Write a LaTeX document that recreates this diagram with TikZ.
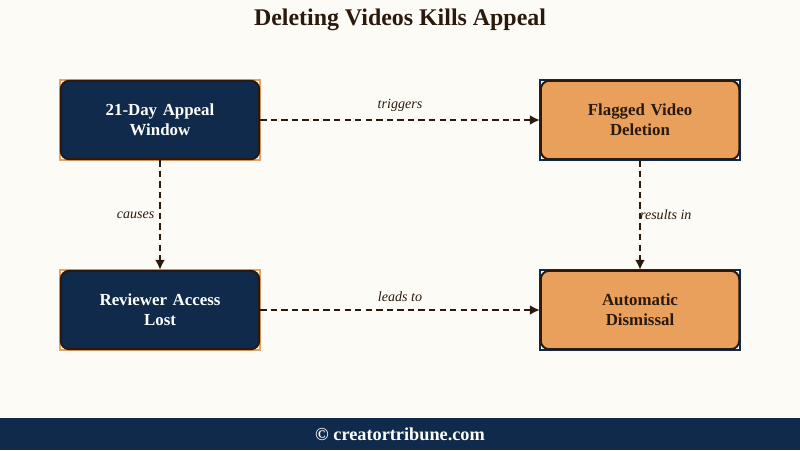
\documentclass[tikz,border=0pt]{standalone}
\usepackage{fontspec}
\setmainfont{Liberation Serif}
\usetikzlibrary{backgrounds, arrows.meta}
\definecolor{cream}{HTML}{FDFBF6}
\definecolor{navy}{HTML}{0F2A4A}
\definecolor{apricot}{HTML}{E8A05C}
\definecolor{umber}{HTML}{2B1A0C}
\definecolor{tan}{HTML}{E2A266}
\tikzset{
    darkbox/.style={rectangle, rounded corners=6pt, draw=umber, line width=1.4pt,
        fill=navy, text=white, font=\bfseries\fontsize{12}{14}\selectfont,
        minimum width=4.96cm, minimum height=1.96cm, align=center, text width=4.2cm},
    lightbox/.style={darkbox, fill=apricot, text=umber},
    link/.style={draw=umber, line width=1.4pt, dash pattern=on 4.5pt off 3pt,
        -{Latex[length=7pt, width=7pt]}},
    linklabel/.style={font=\itshape\fontsize{10}{12}\selectfont, text=umber}
}
\begin{document}
\begin{tikzpicture}[x=0.025cm, y=-0.025cm]
    \useasboundingbox (0, 0) rectangle (800, 450);
    \node [darkbox] (window) at (160, 120) {21-Day Appeal\\Window};
    \node [lightbox] (deletion) at (640, 120) {Flagged Video\\Deletion};
    \node [darkbox] (access) at (160, 310) {Reviewer Access\\Lost};
    \node [lightbox] (dismissal) at (640, 310) {Automatic\\Dismissal};

    % page, footer and the square frames behind the boxes
    \begin{scope}[on background layer]
        \fill [color=cream] (0, 0) rectangle (800, 450);
        \fill [color=navy] (0, 418) rectangle (800, 450);
        \foreach \n/\c in {window/tan, access/tan, deletion/navy, dismissal/navy}
            {\draw [color=\c, line width=1.2pt] (\n.north west) rectangle (\n.south east);}
    \end{scope}

    \node [text=white, font=\bfseries\fontsize{13}{15}\selectfont] (credit) at (400, 434) {© creatortribune.com};
    \node [text=umber, font=\bfseries\fontsize{17}{19}\selectfont] (title) at (400, 20) {Deleting Videos Kills Appeal};

    \draw [link] (window.east) -- node [linklabel, above=2pt] (lbltrig) {triggers} (deletion.west);
    \draw [link] (access.east) -- node [linklabel, above=2pt] (lbllead) {leads to} (dismissal.west);
    \draw [link] (window.south) -- node [linklabel, left=0pt] (lblcause) {causes} (access.north);
    \draw [link] (deletion.south) -- node [linklabel, right=-4pt] (lblresult) {results in} (dismissal.north);
\end{tikzpicture}
\end{document}
